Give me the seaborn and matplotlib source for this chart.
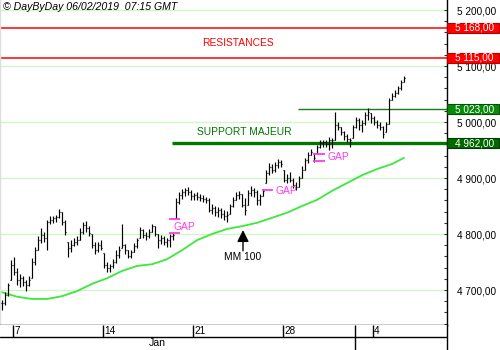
import numpy as np
import matplotlib
matplotlib.use("Agg")
import matplotlib.pyplot as plt
import matplotlib.transforms as mtransforms
from matplotlib.patches import Rectangle
from matplotlib.ticker import MultipleLocator, FixedLocator, FuncFormatter
import seaborn as sns

# ---------------- data ----------------
high = [4682, 4696, 4712, 4754, 4759, 4739, 4729, 4725, 4718, 4725,
        4757, 4777, 4796, 4811, 4804, 4825, 4832, 4832, 4834, 4845,
        4839, 4825, 4786, 4789, 4793, 4796, 4811, 4821, 4823, 4814,
        4800, 4786, 4786, 4789, 4766, 4750, 4746, 4755, 4771, 4779,
        4818, 4782, 4771, 4771, 4784, 4793, 4812, 4809, 4804, 4809,
        4818, 4814, 4800, 4798, 4796, 4793, 4800, 4802, 4864, 4875,
        4880, 4882, 4884, 4879, 4873, 4875, 4871, 4870, 4866, 4864,
        4854, 4850, 4848, 4846, 4843, 4841, 4854, 4866, 4875, 4877,
        4871, 4864, 4879, 4886, 4882, 4879, 4871, 4880, 4914, 4927,
        4925, 4929, 4934, 4932, 4914, 4907, 4911, 4900, 4893, 4904,
        4921, 4936, 4946, 4952, 4945, 4959, 4968, 4968, 4968, 4973,
        4971, 5018, 5000, 4991, 4984, 4979, 4971, 4995, 5009, 5007,
        5004, 5018, 5025, 5016, 5011, 5004, 5000, 4993, 5000, 5043,
        5052, 5057, 5064, 5075, 5082]
low = [4664, 4673, 4689, 4718, 4727, 4709, 4705, 4707, 4698, 4707,
       4721, 4745, 4771, 4784, 4786, 4771, 4818, 4820, 4821, 4829,
       4816, 4798, 4759, 4768, 4779, 4780, 4789, 4800, 4804, 4796,
       4775, 4764, 4768, 4771, 4739, 4732, 4732, 4739, 4748, 4757,
       4775, 4764, 4757, 4757, 4768, 4775, 4793, 4793, 4789, 4793,
       4804, 4796, 4775, 4782, 4780, 4777, 4777, 4789, 4829, 4854,
       4863, 4868, 4870, 4861, 4861, 4861, 4859, 4857, 4855, 4839,
       4836, 4832, 4830, 4829, 4825, 4821, 4836, 4848, 4861, 4863,
       4848, 4834, 4852, 4868, 4866, 4852, 4852, 4868, 4891, 4905,
       4909, 4911, 4918, 4920, 4893, 4891, 4893, 4882, 4879, 4884,
       4900, 4914, 4927, 4941, 4929, 4945, 4954, 4955, 4955, 4950,
       4954, 4968, 4986, 4977, 4968, 4964, 4955, 4971, 4989, 4986,
       4982, 4995, 5004, 4998, 4995, 4989, 4986, 4971, 4982, 4996,
       5039, 5045, 5050, 5057, 5071]
close = [4677, 4691, 4709, 4745, 4732, 4718, 4721, 4714, 4709, 4718,
         4750, 4771, 4789, 4798, 4793, 4821, 4825, 4829, 4830, 4839,
         4821, 4804, 4775, 4780, 4786, 4789, 4804, 4816, 4811, 4802,
         4780, 4771, 4780, 4775, 4745, 4739, 4743, 4750, 4763, 4771,
         4780, 4771, 4761, 4768, 4779, 4789, 4807, 4798, 4796, 4804,
         4814, 4800, 4789, 4793, 4786, 4789, 4796, 4798, 4857, 4870,
         4875, 4879, 4875, 4868, 4870, 4866, 4864, 4863, 4861, 4843,
         4846, 4839, 4843, 4836, 4832, 4834, 4850, 4861, 4870, 4871,
         4852, 4843, 4873, 4879, 4875, 4861, 4868, 4877, 4909, 4920,
         4914, 4923, 4929, 4925, 4896, 4900, 4896, 4888, 4884, 4900,
         4914, 4932, 4941, 4946, 4936, 4955, 4963, 4964, 4961, 4968,
         4968, 4995, 4991, 4982, 4975, 4970, 4968, 4991, 5004, 4995,
         4998, 5013, 5018, 5007, 5000, 4995, 4991, 4979, 4996, 5039,
         5046, 5052, 5061, 5071, 5079]

ma_bar = [0, 5, 10, 15, 20, 25, 30, 35, 40, 45, 50, 55, 60, 65,
          70, 75, 80, 85, 90, 95, 100, 105, 110, 115, 120, 125, 130, 134]
ma_val = [4696, 4688, 4684, 4684, 4689, 4698, 4711, 4721, 4734, 4743,
          4746, 4755, 4771, 4789, 4800, 4809, 4814, 4820, 4829, 4838,
          4850, 4861, 4877, 4891, 4905, 4916, 4925, 4936]

resistances = [5168, 5115]
supports = [5023, 4962]
y_ticks = [4700, 4800, 4900, 5000, 5100, 5200]

day_labels = ["7", "14", "21", "28", "4"]
day_offsets = [0, 5, 10, 15, 20]      # trading days after Jan 7
month_label = "Jan"
month_start_offset = -3                # Jan 2
month_end_offset = 19                  # Feb 1

title = "\u00a9 DayByDay 06/02/2019  07:15 GMT"

# ---------------- layout constants ----------------
BARS_PER_DAY = 6
FIRST_DAY_POS = 3.67
XMIN, XMAX = -0.67, 148.33
YMIN, YMAX = 4637.5, 5217.9

def day_pos(d):
    return FIRST_DAY_POS + BARS_PER_DAY * d

sns.set_theme(style="white")
plt.rcParams["font.family"] = ["Liberation Sans", "DejaVu Sans"]

fig = plt.figure(figsize=(5, 3.5), dpi=100)
ax = fig.add_axes([0, 25 / 350, 447 / 500, 325 / 350])
axd = fig.add_axes([0, 0, 447 / 500, 25 / 350], sharex=ax)

n = len(close)
x = np.arange(n)
hi = np.array(high, float)
lo = np.array(low, float)
cl = np.array(close, float)
op = np.clip(np.r_[cl[0], cl[:-1]], lo, hi)

# gridlines
for v in y_ticks:
    ax.axhline(v, color="#d2f5c8", lw=1.0, zorder=0)

# resistance / support lines
for v in resistances:
    ax.axhline(v, color="#ff0000", lw=1.1, zorder=1)
ax.hlines(supports[0], 98.67, XMAX, color="#1a7a1a", lw=1.0, zorder=1)
ax.hlines(supports[1], 56.67, XMAX, color="#007800", lw=2.4, zorder=1)

# OHLC bars
ax.vlines(x, lo, hi, color="black", lw=0.85, zorder=3)
ax.hlines(op, x - 0.4, x, color="black", lw=0.85, zorder=3)
ax.hlines(cl, x, x + 0.4, color="black", lw=0.85, zorder=3)

# moving average
sns.lineplot(x=ma_bar, y=ma_val, ax=ax, color="#3be83b", lw=1.3, zorder=2)

# annotations
ax.text(78.67, 5141, "RESISTANCES", color="#ff0000", fontsize=7.4,
        ha="center", va="center")
ax.text(80.7, 4982, "SUPPORT MAJEUR", color="#007800", fontsize=7.4,
        ha="center", va="center")
ax.annotate("", xy=(80.33, 4807), xytext=(80.33, 4770),
            arrowprops=dict(arrowstyle="-|>,head_length=0.7,head_width=0.35",
                            color="black", lw=1.0, shrinkA=0, shrinkB=0,
                            mutation_scale=10))
ax.text(80.33, 4759, "MM 100", color="black", fontsize=7.4,
        ha="center", va="center")

gap_c = "#ff3ce6"
ax.hlines([4826, 4802], 55.67, 59.33, color=gap_c, lw=1.3, zorder=4)
ax.text(57.0, 4813, "GAP", color=gap_c, fontsize=7.4, ha="left", va="center")
ax.hlines([4879], 86.67, 90.33, color=gap_c, lw=1.3, zorder=4)
ax.text(91.0, 4877, "GAP", color=gap_c, fontsize=7.4, ha="left", va="center")
ax.hlines([4943, 4930], 103.67, 107.67, color=gap_c, lw=1.3, zorder=4)
ax.text(108.33, 4938, "GAP", color=gap_c, fontsize=7.4, ha="left", va="center")

ax.set_xlim(XMIN, XMAX)
ax.set_ylim(YMIN, YMAX)
ax.set_xlabel("")
ax.set_ylabel("")
ax.set_xticks([])

# right price axis
ax.yaxis.tick_right()
ax.yaxis.set_major_locator(FixedLocator(y_ticks))
ax.yaxis.set_minor_locator(MultipleLocator(20))
ax.yaxis.set_major_formatter(FuncFormatter(
    lambda v, p: f"{int(v) // 1000} {int(v) % 1000:03d},00"))
ax.tick_params(axis="y", which="both", direction="in", length=2.5,
               width=0.8, color="#333333", labelsize=7.2, pad=7,
               labelcolor="black")
ax.tick_params(axis="y", which="minor", length=2)

ax.spines["top"].set_visible(False)
ax.spines["left"].set_color("#dddddd")
ax.spines["left"].set_linewidth(1.0)
ax.spines["right"].set_color("black")
ax.spines["right"].set_linewidth(1.0)
ax.spines["bottom"].set_color("black")
ax.spines["bottom"].set_linewidth(1.0)

# value boxes on the right axis
trans = mtransforms.blended_transform_factory(ax.transAxes, ax.transData)
box_w = 52 / 447
box_h = 10 / 0.56
for v, fc, ec in [(resistances[0], "#ff0000", "#b00000"),
                  (resistances[1], "#ff0000", "#b00000"),
                  (supports[0], "#0a8a0a", "#045004"),
                  (supports[1], "#006a00", "#003a00")]:
    ax.add_patch(Rectangle((1.0, v - box_h / 2), box_w, box_h,
                           transform=trans, facecolor=fc, edgecolor=ec,
                           lw=0.8, clip_on=False, zorder=6))
    ax.text(1.0 + 8 / 447, v, f"{v // 1000} {v % 1000:03d},00",
            transform=trans, color="white", fontsize=7.2, ha="left",
            va="center", clip_on=False, zorder=7)

# date axis
axd.set_ylim(25, 0)
axd.set_xlim(XMIN, XMAX)
for s in ["top", "left", "bottom"]:
    axd.spines[s].set_visible(False)
axd.spines["right"].set_color("black")
axd.spines["right"].set_linewidth(1.0)
axd.set_xticks([])
axd.set_yticks([])
axd.axhline(12, color="black", lw=1.0)
for lab, d in zip(day_labels, day_offsets):
    p = day_pos(d)
    axd.vlines(p, 0, 12, color="black", lw=1.0)
    axd.text(p + 0.4, 6.3, lab, fontsize=7.2, ha="left", va="center",
             color="black")
axd.vlines(day_pos(month_end_offset), 0, 25, color="black", lw=1.0)
axd.text((day_pos(month_start_offset) + day_pos(month_end_offset)) / 2, 18.5,
         month_label, fontsize=7.6, ha="center", va="center", color="black")

fig.text(3 / 500, 1 - 2 / 350, title, fontsize=7.6, style="italic",
         ha="left", va="top", color="black")

fig.savefig("out.png", dpi=100, facecolor="white")
